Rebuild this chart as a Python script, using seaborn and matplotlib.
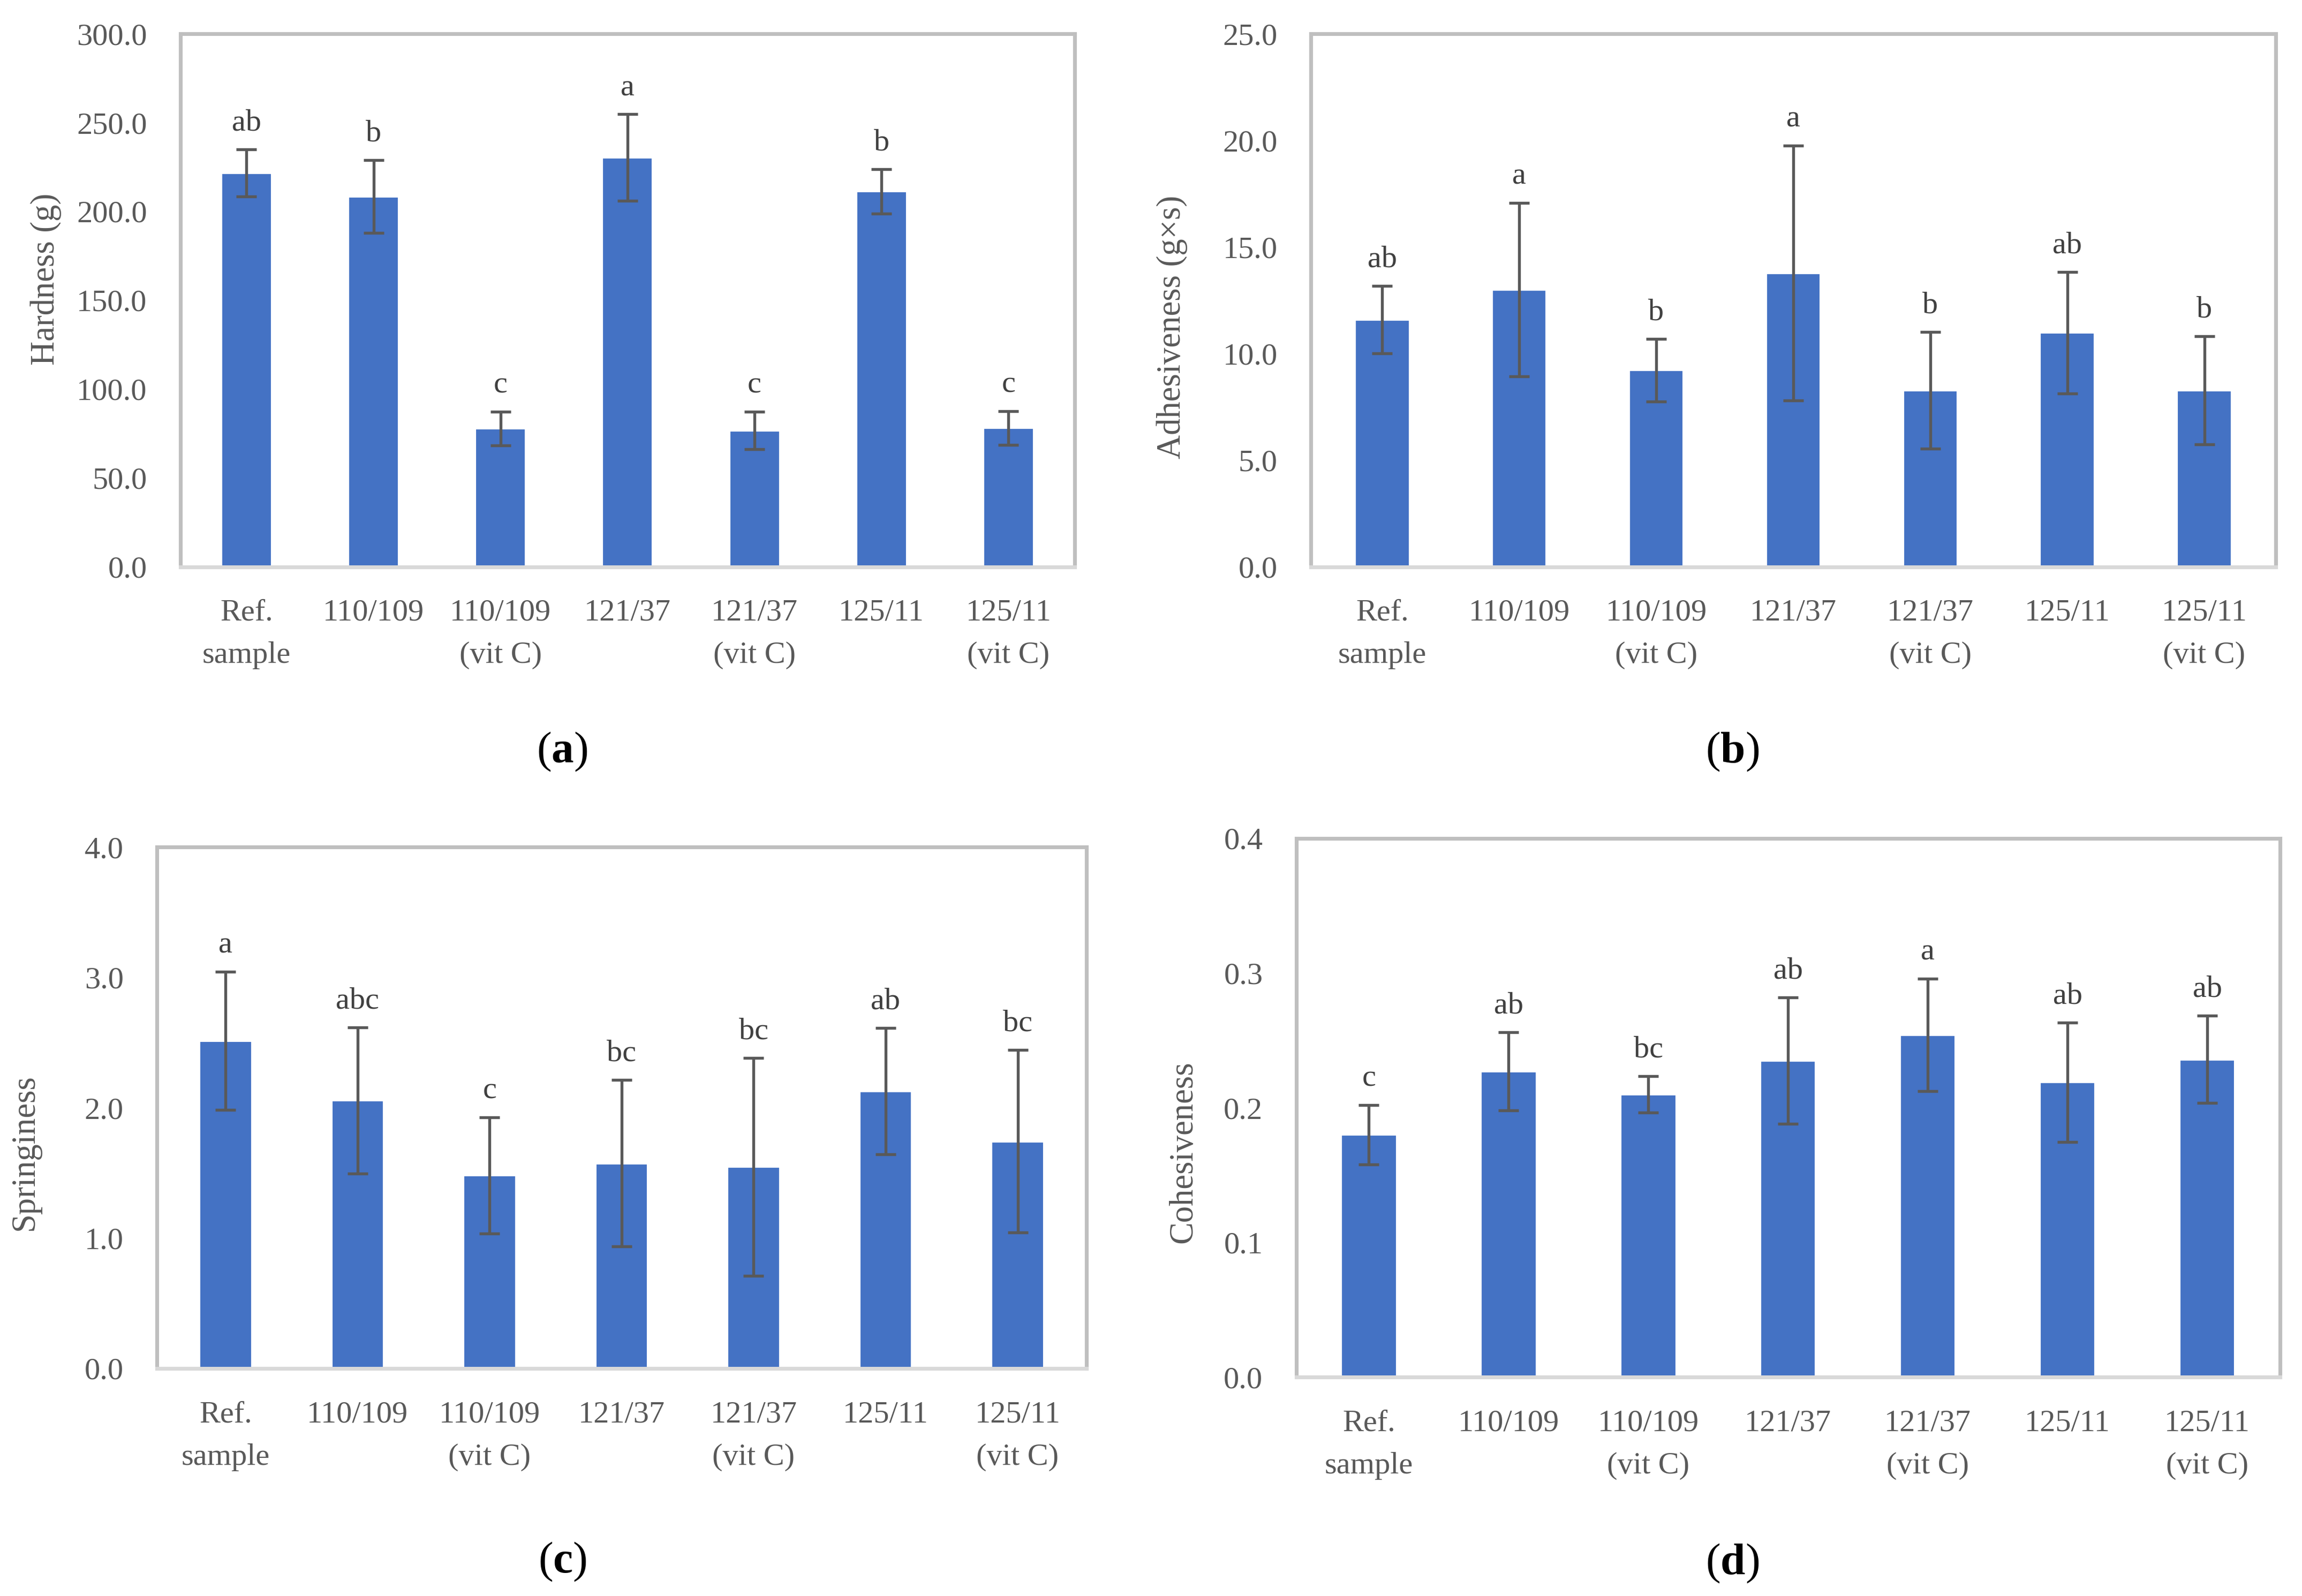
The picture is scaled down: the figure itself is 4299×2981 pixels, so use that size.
import numpy as np
import pandas as pd
import matplotlib
matplotlib.use("Agg")
import matplotlib.pyplot as plt
import seaborn as sns
from matplotlib.ticker import FuncFormatter

# Sample groups (x axis)
samples = ["Ref.\nsample", "110/109", "110/109\n(vit C)", "121/37",
           "121/37\n(vit C)", "125/11", "125/11\n(vit C)"]

# (a) Hardness (g)
hardness = [221.6, 208.4, 77.8, 230.3, 76.7, 211.3, 78.1]
hardness_sd = [13.3, 20.6, 9.5, 24.4, 10.5, 12.6, 9.6]
hardness_letters = ["ab", "b", "c", "a", "c", "b", "c"]

# (b) Adhesiveness (g×s)
adhesiveness = [11.6, 13.0, 9.23, 13.78, 8.28, 10.98, 8.28]
adhesiveness_sd = [1.58, 4.07, 1.47, 5.98, 2.73, 2.85, 2.53]
adhesiveness_letters = ["ab", "a", "b", "a", "b", "ab", "b"]

# (c) Springiness
springiness = [2.515, 2.057, 1.481, 1.575, 1.547, 2.127, 1.743]
springiness_sd = [0.53, 0.56, 0.445, 0.64, 0.835, 0.485, 0.70]
springiness_letters = ["a", "abc", "c", "bc", "bc", "ab", "bc"]

# (d) Cohesiveness
cohesiveness = [0.180, 0.227, 0.210, 0.235, 0.254, 0.219, 0.236]
cohesiveness_sd = [0.022, 0.029, 0.0136, 0.047, 0.0417, 0.0443, 0.0323]
cohesiveness_letters = ["c", "ab", "bc", "ab", "a", "ab", "ab"]

BAR = "#4472C4"
ERR = "#595959"
TXT = "#595959"

sns.set_style("white")
plt.rcParams["font.family"] = ["Liberation Serif", "DejaVu Serif"]
plt.rcParams["mathtext.fontset"] = "custom"
plt.rcParams["mathtext.rm"] = "Liberation Serif"
plt.rcParams["mathtext.bf"] = "Liberation Serif:bold"

fig = plt.figure(figsize=(4299 / 300, 2981 / 300), dpi=300)

panels = [
    # rect, values, sd, letters, ylabel, ymax, step, ylabel_pos, tag, tag_pos
    ([0.0784, 0.6449, 0.3884, 0.3339], hardness, hardness_sd, hardness_letters,
     "Hardness (g)", 300, 50, (-0.133, 0.54), "a", (0.2443, 0.529)),
    ([0.5695, 0.6449, 0.4190, 0.3339], adhesiveness, adhesiveness_sd, adhesiveness_letters,
     "Adhesiveness (g×s)", 25, 5, (-0.128, 0.45), "b", (0.7526, 0.529)),
    ([0.0682, 0.1426, 0.4037, 0.3266], springiness, springiness_sd, springiness_letters,
     "Springiness", 4, 1, (-0.125, 0.415), "c", (0.2443, 0.0212)),
    ([0.5631, 0.1371, 0.4273, 0.3376], cohesiveness, cohesiveness_sd, cohesiveness_letters,
     "Cohesiveness", 0.4, 0.1, (-0.099, 0.418), "d", (0.7526, 0.0202)),
]

for rect, vals, sd, letters, ylabel, ymax, step, ylpos, tag, tagpos in panels:
    ax = fig.add_axes(rect)
    df = pd.DataFrame({"sample": samples, "value": vals})
    sns.barplot(data=df, x="sample", y="value", color=BAR, width=0.4,
                errorbar=None, saturation=1, ax=ax)
    xs = np.arange(len(samples))
    ax.errorbar(xs, vals, yerr=sd, fmt="none", ecolor=ERR, elinewidth=1.3,
                capsize=4.5, capthick=1.3, zorder=3)
    for x, v, s, lab in zip(xs, vals, sd, letters):
        ax.annotate(lab, (x, v + s), xytext=(0, 8.5), textcoords="offset points",
                    ha="center", va="baseline", fontsize=14, color="#404040")

    ax.set_ylim(0, ymax)
    ax.set_yticks(np.arange(0, ymax + step / 2, step))
    ax.yaxis.set_major_formatter(FuncFormatter(lambda v, p: f"{v:.1f}"))
    ax.tick_params(axis="both", length=0, labelsize=14, labelcolor=TXT)
    ax.tick_params(axis="y", pad=15)
    ax.tick_params(axis="x", pad=14.5)
    for t in ax.get_xticklabels():
        t.set_linespacing(1.68)
    ax.set_xlabel("")
    ax.set_ylabel(ylabel, fontsize=15, color=TXT)
    ax.yaxis.set_label_coords(*ylpos)

    for side in ["left", "right", "top"]:
        ax.spines[side].set_color("#BFBFBF")
        ax.spines[side].set_linewidth(1.7)
    ax.spines["bottom"].set_color("#D9D9D9")
    ax.spines["bottom"].set_linewidth(1.7)

    fig.text(tagpos[0], tagpos[1], "(" + r"$\mathbf{" + tag + "}$" + ")",
             ha="center", va="center", fontsize=20, color="black")

fig.savefig("out.png", dpi=300)
